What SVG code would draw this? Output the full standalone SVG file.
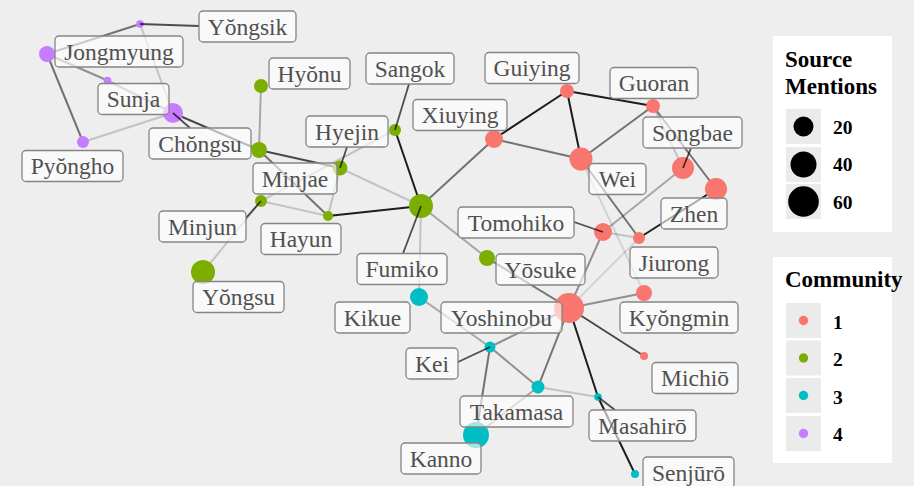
<svg xmlns="http://www.w3.org/2000/svg" width="914" height="486" viewBox="0 0 914 486">
<style>
.e{stroke:#000;stroke-width:2;fill:none}
.k9{stroke-opacity:.88}.k7{stroke-opacity:.7}.k5{stroke-opacity:.52}.k4{stroke-opacity:.4}.k3{stroke-opacity:.3}.k2{stroke-opacity:.18}.k1{stroke-opacity:.11}
.c1{fill:#F8766D}.c2{fill:#7CAE00}.c3{fill:#00BFC4}.c4{fill:#C77CFF}
.seg{stroke:#000;stroke-opacity:.68;stroke-width:1.8}
.lb{fill:#fff;fill-opacity:.62;stroke:#858585;stroke-width:1.3}
.lt{font-family:"Liberation Serif","Times New Roman",serif;font-size:23.5px;fill:#505050;text-anchor:middle}
.lg{font-family:"Liberation Serif","Times New Roman",serif;font-weight:bold;fill:#000}
.key{fill:#EBEBEB}
</style>
<rect width="914" height="486" fill="#EEEEEE"/>
<g id="edges">
<line class="e k5" x1="47" y1="54" x2="140" y2="24"/>
<line class="e k2" x1="140" y1="24" x2="173" y2="113"/>
<line class="e k4" x1="47" y1="54" x2="107.5" y2="80.5"/>
<line class="e k3" x1="107.5" y1="80.5" x2="173" y2="113"/>
<line class="e k5" x1="47" y1="54" x2="83" y2="142"/>
<line class="e k2" x1="83" y1="142" x2="173" y2="113"/>
<line class="e k7" x1="173" y1="113" x2="259" y2="150"/>
<line class="e k3" x1="261" y1="86" x2="259" y2="150"/>
<line class="e k7" x1="259" y1="150" x2="340" y2="168"/>
<line class="e k5" x1="259" y1="150" x2="328" y2="216"/>
<line class="e k2" x1="261" y1="201" x2="395" y2="130"/>
<line class="e k2" x1="340" y1="168" x2="328" y2="216"/>
<line class="e k2" x1="261" y1="201" x2="328" y2="216"/>
<line class="e k2" x1="340" y1="168" x2="421" y2="206"/>
<line class="e k9" x1="328" y1="216" x2="421" y2="206"/>
<line class="e k9" x1="395" y1="130" x2="421" y2="206"/>
<line class="e k2" x1="261" y1="201" x2="203" y2="272"/>
<line class="e k5" x1="421" y1="206" x2="494" y2="139"/>
<line class="e k2" x1="421" y1="206" x2="419" y2="297"/>
<line class="e k3" x1="421" y1="206" x2="487" y2="258"/>
<line class="e k5" x1="487" y1="258" x2="569" y2="308"/>
<line class="e k9" x1="494" y1="139" x2="567" y2="91"/>
<line class="e k5" x1="494" y1="139" x2="581" y2="159"/>
<line class="e k9" x1="567" y1="91" x2="653" y2="106"/>
<line class="e k9" x1="567" y1="91" x2="581" y2="159"/>
<line class="e k5" x1="653" y1="106" x2="581" y2="159"/>
<line class="e k5" x1="653" y1="106" x2="716" y2="189"/>
<line class="e k2" x1="653" y1="106" x2="683" y2="168"/>
<line class="e k3" x1="683" y1="168" x2="603" y2="232"/>
<line class="e k5" x1="581" y1="159" x2="639" y2="238"/>
<line class="e k1" x1="581" y1="159" x2="644" y2="293"/>
<line class="e k2" x1="603" y1="232" x2="639" y2="238"/>
<line class="e k9" x1="639" y1="238" x2="716" y2="189"/>
<line class="e k4" x1="603" y1="232" x2="569" y2="308"/>
<line class="e k4" x1="569" y1="308" x2="644" y2="293"/>
<line class="e k1" x1="569" y1="308" x2="639" y2="238"/>
<line class="e k7" x1="569" y1="308" x2="644" y2="356"/>
<line class="e k9" x1="569" y1="308" x2="598" y2="397"/>
<line class="e k9" x1="598" y1="397" x2="635" y2="474"/>
<line class="e k5" x1="569" y1="308" x2="538" y2="387"/>
<line class="e k4" x1="569" y1="308" x2="490" y2="347"/>
<line class="e k3" x1="419" y1="297" x2="490" y2="347"/>
<line class="e k4" x1="490" y1="347" x2="538" y2="387"/>
<line class="e k5" x1="490" y1="347" x2="476" y2="435"/>
<line class="e k3" x1="538" y1="387" x2="476" y2="435"/>
<line class="e k2" x1="538" y1="387" x2="598" y2="397"/>
</g>
<g id="n-Yongsik"><circle class="c4" cx="140" cy="24" r="3.8"/><line class="seg" x1="140" y1="24" x2="199" y2="26"/><rect class="lb" x="199" y="11" width="97" height="31" rx="4"/><text class="lt" x="247.5" y="34.5">Yŏngsik</text></g>
<g id="n-Jongmyung"><circle class="c4" cx="47" cy="54" r="8"/><rect class="lb" x="55" y="36" width="128" height="31" rx="4"/><text class="lt" x="119" y="59.5">Jongmyung</text></g>
<g id="n-Chongsu"><circle class="c4" cx="173" cy="113" r="10"/><line class="seg" x1="173" y1="113" x2="190" y2="128"/><rect class="lb" x="149" y="128" width="102" height="31" rx="4"/><text class="lt" x="200" y="151.5">Chŏngsu</text></g>
<g id="n-Sunja"><circle class="c4" cx="107.5" cy="80.5" r="3.8"/><rect class="lb" x="98" y="83.5" width="71" height="31" rx="4"/><text class="lt" x="133.5" y="107">Sunja</text></g>
<g id="n-Pyongho"><circle class="c4" cx="83" cy="142" r="6"/><rect class="lb" x="22" y="150.5" width="101" height="31" rx="4"/><text class="lt" x="72.5" y="174">Pyŏngho</text></g>
<g id="n-Hyonu"><circle class="c2" cx="261" cy="86" r="7"/><rect class="lb" x="269" y="58" width="81" height="31" rx="4"/><text class="lt" x="309.5" y="81.5">Hyŏnu</text></g>
<g id="n-Sangok"><circle class="c2" cx="395" cy="130" r="6"/><line class="seg" x1="395" y1="130" x2="409" y2="84"/><rect class="lb" x="366" y="53" width="88" height="31" rx="4"/><text class="lt" x="410" y="76.5">Sangok</text></g>
<g id="n-Hyejin"><circle class="c2" cx="340" cy="168" r="7.5"/><line class="seg" x1="340" y1="168" x2="347" y2="147"/><rect class="lb" x="306" y="116" width="82" height="31" rx="4"/><text class="lt" x="347" y="139.5">Hyejin</text></g>
<g id="n-Minjae"><circle class="c2" cx="259" cy="150" r="8"/><rect class="lb" x="253" y="163" width="84" height="31" rx="4"/><text class="lt" x="295" y="186.5">Minjae</text></g>
<g id="n-Minjun"><circle class="c2" cx="261" cy="201" r="6"/><line class="seg" x1="261" y1="201" x2="246" y2="218"/><rect class="lb" x="159" y="211" width="87" height="31" rx="4"/><text class="lt" x="202.5" y="234.5">Minjun</text></g>
<g id="n-Hayun"><circle class="c2" cx="328" cy="216" r="5"/><rect class="lb" x="261" y="223.5" width="80" height="31" rx="4"/><text class="lt" x="301" y="247">Hayun</text></g>
<g id="n-Fumiko"><circle class="c2" cx="421" cy="206" r="12"/><line class="seg" x1="421" y1="206" x2="403" y2="253.5"/><rect class="lb" x="357" y="253.5" width="90" height="31" rx="4"/><text class="lt" x="402" y="277">Fumiko</text></g>
<g id="n-Yongsu"><circle class="c2" cx="203" cy="272" r="12"/><rect class="lb" x="193" y="281.5" width="91" height="31" rx="4"/><text class="lt" x="238.5" y="305">Yŏngsu</text></g>
<g id="n-Yosuke"><circle class="c2" cx="487" cy="258" r="8"/><rect class="lb" x="496" y="254" width="89" height="31" rx="4"/><text class="lt" x="540.5" y="277.5">Yōsuke</text></g>
<g id="n-Kikue"><circle class="c3" cx="419" cy="297" r="9"/><rect class="lb" x="335" y="302" width="75" height="31" rx="4"/><text class="lt" x="372.5" y="325.5">Kikue</text></g>
<g id="n-Kei"><circle class="c3" cx="490" cy="347" r="5.5"/><line class="seg" x1="490" y1="347" x2="458" y2="362"/><rect class="lb" x="406" y="348" width="52" height="31" rx="4"/><text class="lt" x="432" y="371.5">Kei</text></g>
<g id="n-Kanno"><circle class="c3" cx="476" cy="435" r="13"/><rect class="lb" x="401" y="443" width="80" height="31" rx="4"/><text class="lt" x="441" y="466.5">Kanno</text></g>
<g id="n-Takamasa"><circle class="c3" cx="538" cy="387" r="6.5"/><rect class="lb" x="460" y="396" width="113" height="31" rx="4"/><text class="lt" x="516.5" y="419.5">Takamasa</text></g>
<g id="n-Masahiro"><circle class="c3" cx="598" cy="397" r="3.8"/><line class="seg" x1="598" y1="397" x2="615" y2="410"/><rect class="lb" x="589" y="410" width="107" height="31" rx="4"/><text class="lt" x="642.5" y="433.5">Masahirō</text></g>
<g id="n-Senjuro"><circle class="c3" cx="635" cy="474" r="4"/><rect class="lb" x="643" y="457" width="91" height="31" rx="4"/><text class="lt" x="688.5" y="480.5">Senjūrō</text></g>
<g id="n-Xiuying"><circle class="c1" cx="494" cy="139" r="9"/><rect class="lb" x="413" y="99.5" width="94" height="31" rx="4"/><text class="lt" x="460" y="123">Xiuying</text></g>
<g id="n-Guiying"><circle class="c1" cx="567" cy="91" r="7"/><rect class="lb" x="485" y="52.5" width="94" height="31" rx="4"/><text class="lt" x="532" y="76">Guiying</text></g>
<g id="n-Guoran"><circle class="c1" cx="653" cy="106" r="7"/><rect class="lb" x="610" y="67.5" width="88" height="31" rx="4"/><text class="lt" x="654" y="91">Guoran</text></g>
<g id="n-Wei"><circle class="c1" cx="581" cy="159" r="11.5"/><rect class="lb" x="589" y="163.5" width="57" height="31" rx="4"/><text class="lt" x="617.5" y="187">Wei</text></g>
<g id="n-Songbae"><circle class="c1" cx="683" cy="168" r="11"/><line class="seg" x1="683" y1="168" x2="691" y2="148"/><rect class="lb" x="643" y="117" width="99" height="31" rx="4"/><text class="lt" x="692.5" y="140.5">Songbae</text></g>
<g id="n-Zhen"><circle class="c1" cx="716" cy="189" r="11"/><rect class="lb" x="661" y="198" width="66" height="31" rx="4"/><text class="lt" x="694" y="221.5">Zhen</text></g>
<g id="n-Tomohiko"><circle class="c1" cx="603" cy="232" r="9"/><line class="seg" x1="603" y1="232" x2="574" y2="222"/><rect class="lb" x="458" y="207" width="116" height="31" rx="4"/><text class="lt" x="516" y="230.5">Tomohiko</text></g>
<g id="n-Jiurong"><circle class="c1" cx="639" cy="238" r="6"/><rect class="lb" x="630" y="247" width="88" height="31" rx="4"/><text class="lt" x="674" y="270.5">Jiurong</text></g>
<g id="n-Kyongmin"><circle class="c1" cx="644" cy="293" r="8"/><rect class="lb" x="620" y="302" width="118" height="31" rx="4"/><text class="lt" x="679" y="325.5">Kyŏngmin</text></g>
<g id="n-Yoshinobu"><circle class="c1" cx="569" cy="308" r="15"/><rect class="lb" x="441" y="302" width="121" height="31" rx="4"/><text class="lt" x="501.5" y="325.5">Yoshinobu</text></g>
<g id="n-Michio"><circle class="c1" cx="644" cy="356" r="4"/><rect class="lb" x="652" y="362.5" width="86" height="31" rx="4"/><text class="lt" x="695" y="386">Michiō</text></g>
<g id="legend-size">
<rect x="773" y="36" width="119" height="196" fill="#fff"/>
<text class="lg" x="785" y="66.5" font-size="23">Source</text>
<text class="lg" x="785" y="94" font-size="23">Mentions</text>
<rect class="key" x="786" y="109" width="35" height="35"/>
<rect class="key" x="786" y="147" width="35" height="35"/>
<rect class="key" x="786" y="184" width="35" height="35"/>
<circle cx="803.5" cy="126.5" r="10" fill="#000"/>
<circle cx="803.5" cy="164.5" r="13" fill="#000"/>
<circle cx="803.5" cy="201.5" r="15.3" fill="#000"/>
<text class="lg" x="833" y="133.5" font-size="19.5">20</text>
<text class="lg" x="833" y="171" font-size="19.5">40</text>
<text class="lg" x="833" y="208.5" font-size="19.5">60</text>
</g>
<g id="legend-community">
<rect x="773" y="257" width="119" height="206" fill="#fff"/>
<text class="lg" x="785" y="287" font-size="23">Community</text>
<rect class="key" x="786" y="303" width="35" height="35"/>
<rect class="key" x="786" y="340.5" width="35" height="35"/>
<rect class="key" x="786" y="378" width="35" height="35"/>
<rect class="key" x="786" y="416" width="35" height="35"/>
<circle class="c1" cx="803.5" cy="320.5" r="4.7"/>
<circle class="c2" cx="803.5" cy="358" r="4.7"/>
<circle class="c3" cx="803.5" cy="395.5" r="4.7"/>
<circle class="c4" cx="803.5" cy="433.5" r="4.7"/>
<text class="lg" x="833" y="328.5" font-size="19.5">1</text>
<text class="lg" x="833" y="366" font-size="19.5">2</text>
<text class="lg" x="833" y="403.5" font-size="19.5">3</text>
<text class="lg" x="833" y="441" font-size="19.5">4</text>
</g>
</svg>
